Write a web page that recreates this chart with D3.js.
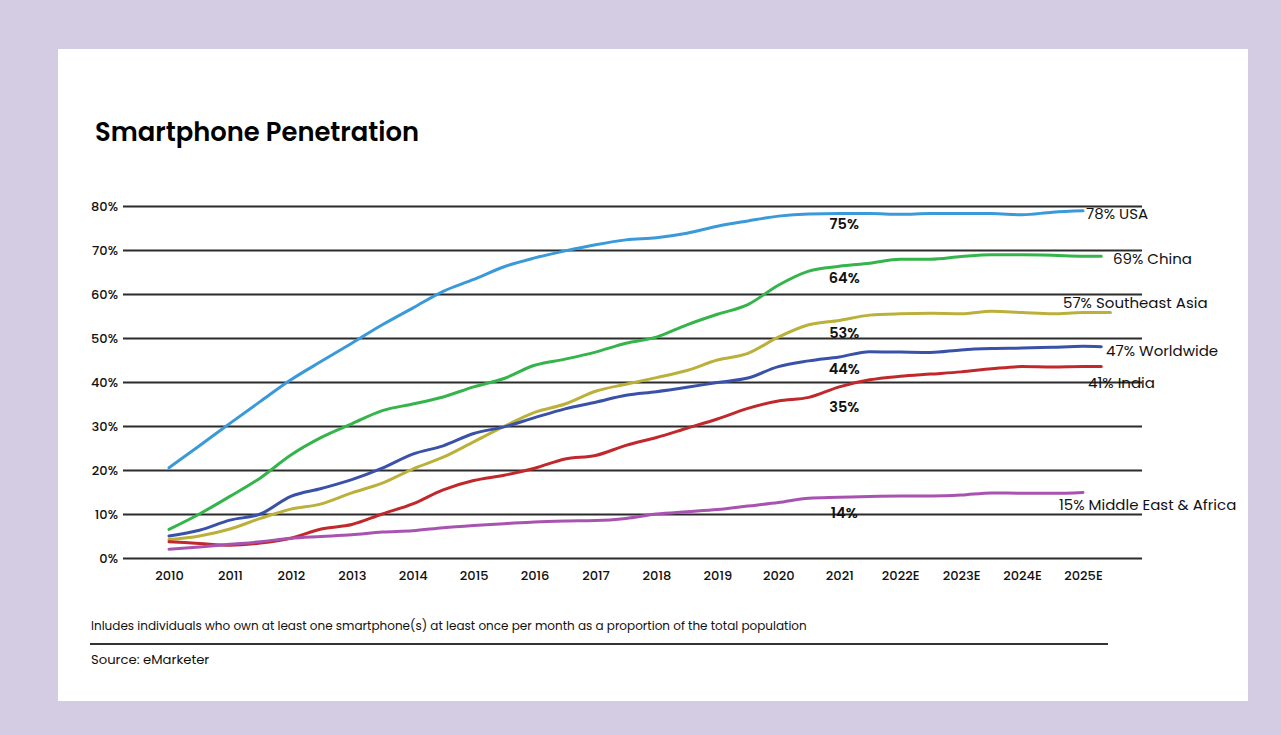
<!DOCTYPE html>
<html>
<head>
<meta charset="utf-8">
<script src="https://cdn.jsdelivr.net/npm/d3@7"></script>
<style>
  html, body { margin: 0; padding: 0; background: #d3cce3; }
  body { width: 1281px; height: 735px; overflow: hidden; font-family: "Poppins", "Open Sans", sans-serif; }
  .grid line { stroke: #2b2b2b; stroke-width: 2; }
  .grid text, .x-axis text { font-family: "Poppins", "Open Sans", sans-serif; font-size: 13px; fill: #111; font-weight: 500; }
</style>
</head>
<body>
<div id="chart"></div>
<script>
// Half-year sample points
const years = [2010, 2010.5, 2011, 2011.5, 2012, 2012.5, 2013, 2013.5, 2014, 2014.5,
    2015, 2015.5, 2016, 2016.5, 2017, 2017.5, 2018, 2018.5, 2019, 2019.5,
    2020, 2020.5, 2021, 2021.5, 2022, 2022.5, 2023, 2023.5, 2024, 2024.5, 2025];

const usa = [20.5, 25.5, 30.6, 35.6, 40.5, 44.7, 48.8, 53.0, 56.8, 60.6,
    63.3, 66.2, 68.2, 69.8, 71.2, 72.3, 72.8, 73.8, 75.4, 76.6,
    77.7, 78.2, 78.3, 78.3, 78.1, 78.3, 78.3, 78.3, 78.0, 78.6, 78.9];
const china = [6.5, 10.0, 14.0, 18.2, 23.4, 27.4, 30.5, 33.5, 35.0, 36.6,
    38.9, 40.8, 43.8, 45.2, 46.8, 48.8, 50.2, 53.0, 55.4, 57.6,
    62.0, 65.2, 66.3, 67.0, 67.9, 67.9, 68.5, 68.9, 68.9, 68.8, 68.6];
const seAsia = [4.2, 5.0, 6.6, 9.0, 11.1, 12.3, 14.8, 17.0, 20.2, 22.9,
    26.4, 29.9, 33.1, 35.0, 37.9, 39.5, 41.0, 42.6, 45.0, 46.5,
    50.2, 53.0, 54.0, 55.2, 55.5, 55.6, 55.5, 56.1, 55.8, 55.5, 55.8];
const worldwide = [5.0, 6.3, 8.6, 10.0, 14.0, 15.8, 17.8, 20.4, 23.6, 25.5,
    28.3, 29.8, 31.9, 33.9, 35.4, 37.0, 37.8, 38.8, 39.9, 40.9,
    43.5, 44.8, 45.7, 46.9, 46.8, 46.7, 47.3, 47.6, 47.7, 47.9, 48.1];
const india = [3.7, 3.3, 2.9, 3.4, 4.5, 6.6, 7.6, 10.0, 12.3, 15.5,
    17.6, 18.8, 20.4, 22.5, 23.3, 25.6, 27.4, 29.5, 31.6, 34.0,
    35.7, 36.5, 38.9, 40.5, 41.3, 41.8, 42.3, 43.0, 43.5, 43.4, 43.5];
const mea = [2.0, 2.5, 3.1, 3.7, 4.5, 4.9, 5.3, 5.9, 6.2, 6.9,
    7.4, 7.8, 8.2, 8.4, 8.5, 9.0, 10.0, 10.5, 11.0, 11.8,
    12.6, 13.6, 13.8, 14.0, 14.1, 14.1, 14.3, 14.8, 14.7, 14.7, 14.9];

// Where each line stops past 2025
const endYears = [2025, 2025.3, 2025.45, 2025.3, 2025.3, 2025];
const endValues = [78.9, 68.6, 55.8, 48.0, 43.5, 14.9];

const seriesNames = ['USA', 'China', 'Southeast Asia', 'Worldwide', 'India', 'Middle East & Africa'];
const seriesValues = [usa, china, seAsia, worldwide, india, mea];
const seriesColors = ['#3a9ad9', '#34b44a', '#bbb13a', '#3a51a8', '#c0282b', '#a853b0'];
const endLabels = ['78% USA', '69% China', '57% Southeast Asia', '47% Worldwide', '41% India', '15% Middle East & Africa'];
const endLabelX = [1086, 1113, 1063, 1106, 1088, 1059];
const endLabelY = [77.1, 66.9, 56.8, 46.0, 38.7, 10.9];

// 2021 values printed in the middle
const midLabels = ['75%', '64%', '53%', '44%', '35%', '14%'];
const midLabelY = [74.8, 62.5, 50.0, 41.8, 33.2, 9.1];

const yTicks = [0, 10, 20, 30, 40, 50, 60, 70, 80];
const xTicks = [2010, 2011, 2012, 2013, 2014, 2015, 2016, 2017, 2018, 2019, 2020, 2021, 2022, 2023, 2024, 2025];
const xTickLabels = ['2010', '2011', '2012', '2013', '2014', '2015', '2016', '2017', '2018', '2019',
    '2020', '2021', '2022E', '2023E', '2024E', '2025E'];

const W = 1281, H = 735;
const svg = d3.select('#chart').append('svg')
    .attr('width', W)
    .attr('height', H);

// White card
svg.append('rect')
    .attr('x', 58).attr('y', 49)
    .attr('width', 1190).attr('height', 652)
    .attr('fill', '#fff');

svg.append('text')
    .attr('x', 95).attr('y', 141)
    .attr('font-size', 25.8)
    .attr('font-weight', 600)
    .attr('fill', '#000')
    .text('Smartphone Penetration');

const gridLeft = 123, gridRight = 1142;
const xScale = d3.scaleLinear().domain([2010, 2025]).range([169, 1083]);
const yScale = d3.scaleLinear().domain([0, 80]).range([558, 206]);

// Grid lines + y labels
const grid = svg.append('g')
    .attr('class', 'grid')
    .attr('transform', `translate(${gridLeft},0)`)
    .call(d3.axisLeft(yScale)
        .tickValues(yTicks)
        .tickSize(-(gridRight - gridLeft))
        .tickPadding(5)
        .tickFormat(d => d + '%'));
grid.select('.domain').remove();
grid.selectAll('text').attr('dy', '0.36em');

// X labels
const xAxis = svg.append('g')
    .attr('class', 'x-axis')
    .attr('transform', `translate(0,${yScale(0)})`)
    .call(d3.axisBottom(xScale)
        .tickValues(xTicks)
        .tickSize(0)
        .tickPadding(13)
        .tickFormat((d, i) => xTickLabels[i]));
xAxis.select('.domain').remove();

const line = d3.line()
    .x(d => xScale(d[0]))
    .y(d => yScale(d[1]))
    .curve(d3.curveMonotoneX);

seriesValues.forEach((vals, i) => {
    const pts = vals.map((v, j) => [years[j], v]);
    if (endYears[i] > 2025) pts.push([endYears[i], endValues[i]]);
    svg.append('path')
        .datum(pts)
        .attr('fill', 'none')
        .attr('stroke', seriesColors[i])
        .attr('stroke-width', 3)
        .attr('stroke-linejoin', 'round')
        .attr('stroke-linecap', 'round')
        .attr('d', line);
});

// Mid labels at 2021
svg.selectAll('.mid-label')
    .data(midLabels)
    .enter()
    .append('text')
    .attr('class', 'mid-label')
    .attr('x', xScale(2021) + 5)
    .attr('y', (d, i) => yScale(midLabelY[i]))
    .attr('text-anchor', 'middle')
    .attr('font-size', 14.5)
    .attr('font-weight', 600)
    .attr('fill', '#111')
    .text(d => d);

// End labels
svg.selectAll('.end-label')
    .data(endLabels)
    .enter()
    .append('text')
    .attr('class', 'end-label')
    .attr('x', (d, i) => endLabelX[i])
    .attr('y', (d, i) => yScale(endLabelY[i]))
    .attr('font-size', 15)
    .attr('fill', '#111')
    .text(d => d);

// Footnote
svg.append('text')
    .attr('x', 91).attr('y', 630)
    .attr('font-size', 12)
    .attr('fill', '#111')
    .text('Inludes individuals who own at least one smartphone(s) at least once per month as a proportion of the total population');

svg.append('line')
    .attr('x1', 90).attr('x2', 1108)
    .attr('y1', 644).attr('y2', 644)
    .attr('stroke', '#333')
    .attr('stroke-width', 2);

svg.append('text')
    .attr('x', 91).attr('y', 664)
    .attr('font-size', 13.2)
    .attr('fill', '#111')
    .text('Source: eMarketer');
</script>
</body>
</html>
